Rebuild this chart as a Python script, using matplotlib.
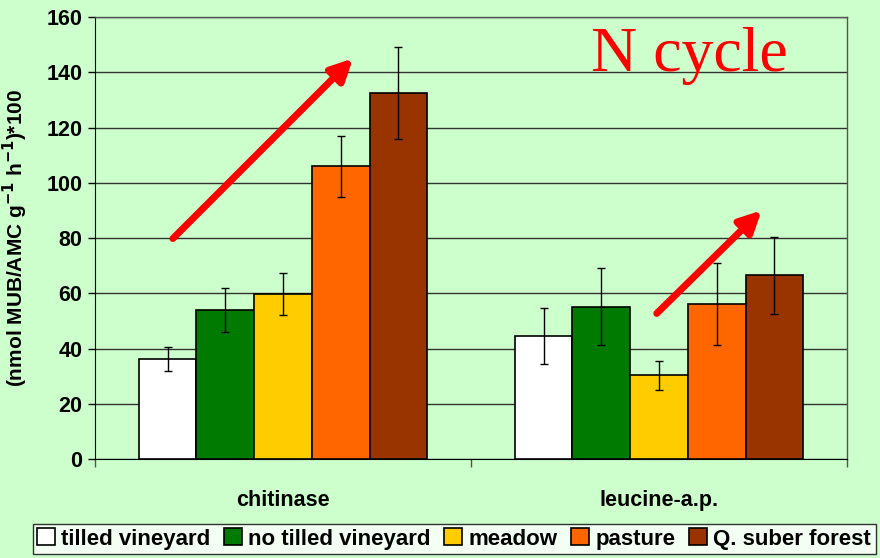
import numpy as np
import matplotlib.pyplot as plt

# enzyme activities by land use
enzymes = ["chitinase", "leucine-a.p."]
land_uses = ["tilled vineyard", "no tilled vineyard", "meadow", "pasture", "Q. suber forest"]
colors = ["#FFFFFF", "#007A00", "#FFCC00", "#FF6600", "#993300"]

means = {
    "tilled vineyard": [36.3, 44.5],
    "no tilled vineyard": [54.0, 55.1],
    "meadow": [59.7, 30.3],
    "pasture": [106.0, 56.1],
    "Q. suber forest": [132.4, 66.5],
}
errors = {
    "tilled vineyard": [4.3, 10.1],
    "no tilled vineyard": [8.0, 13.9],
    "meadow": [7.5, 5.2],
    "pasture": [11.0, 14.8],
    "Q. suber forest": [16.6, 14.0],
}

bg = "#CCFFCC"
plt.rcParams["font.family"] = ["Liberation Sans", "DejaVu Sans"]
plt.rcParams["font.weight"] = "bold"
plt.rcParams["mathtext.default"] = "bf"

fig = plt.figure(figsize=(8.8, 5.58), dpi=100, facecolor=bg)
ax = fig.add_axes([0.108, 0.1774, 0.8545, 0.7921], facecolor=bg)

x = np.arange(len(enzymes))
width = 0.1535
for i, lu in enumerate(land_uses):
    pos = x + (i - 2) * width
    ax.bar(pos, means[lu], width, color=colors[i], edgecolor="black",
           linewidth=1.2, label=lu, zorder=3)
    ax.errorbar(pos, means[lu], yerr=errors[lu], fmt="none", ecolor="black",
                elinewidth=1, capsize=3, capthick=1, zorder=4)

ax.set_xlim(-0.5, 1.5)
ax.set_ylim(0, 160)
ax.set_yticks(np.arange(0, 161, 20))
ax.yaxis.grid(True, color="#333333", linewidth=1, zorder=0)
ax.tick_params(axis="y", labelsize=15.5, length=5, width=1, direction="out", pad=4)

ax.set_xticks(x)
ax.set_xticklabels(enzymes, fontsize=15.5, fontweight="bold")
ax.set_xticks([-0.5, 0.5, 1.5], minor=True)
ax.tick_params(axis="x", which="major", length=0, pad=22)
ax.tick_params(axis="x", which="minor", length=6, width=1, color="#555555")

for side in ["top", "right"]:
    ax.spines[side].set_color("#555555")
    ax.spines[side].set_linewidth(1)
ax.spines["left"].set_color("black")
ax.spines["bottom"].set_color("black")

ax.set_ylabel("(nmol MUB/AMC g$^{-1}$ h$^{-1}$)*100",
              fontsize=15, fontweight="bold", labelpad=12)

# trend arrows
head = "-|>,head_length=1.3,head_width=0.65"
ax.annotate("", xy=(0.186, 145), xytext=(-0.293, 79.8),
            arrowprops=dict(arrowstyle=head, color="#FF0000", lw=5,
                            shrinkA=0, shrinkB=0), zorder=5)
ax.annotate("", xy=(1.273, 90), xytext=(0.994, 52.7),
            arrowprops=dict(arrowstyle=head, color="#FF0000", lw=5,
                            shrinkA=0, shrinkB=0), zorder=5)

ax.text(0.79, 0.877, "N cycle", transform=ax.transAxes, color="#FF0000",
        fontsize=46, fontweight="normal", family="Liberation Serif", ha="center",
        va="baseline")

leg = fig.legend(loc="lower left", bbox_to_anchor=(0.037, 0.007), ncol=5,
                 fontsize=16, frameon=True, fancybox=False, edgecolor="black",
                 handlelength=0.8, handleheight=0.8, handletextpad=0.3,
                 columnspacing=0.6, borderpad=0.2, borderaxespad=0)
leg.get_frame().set_linewidth(1)

fig.savefig("out.png", dpi=100, facecolor=bg)
